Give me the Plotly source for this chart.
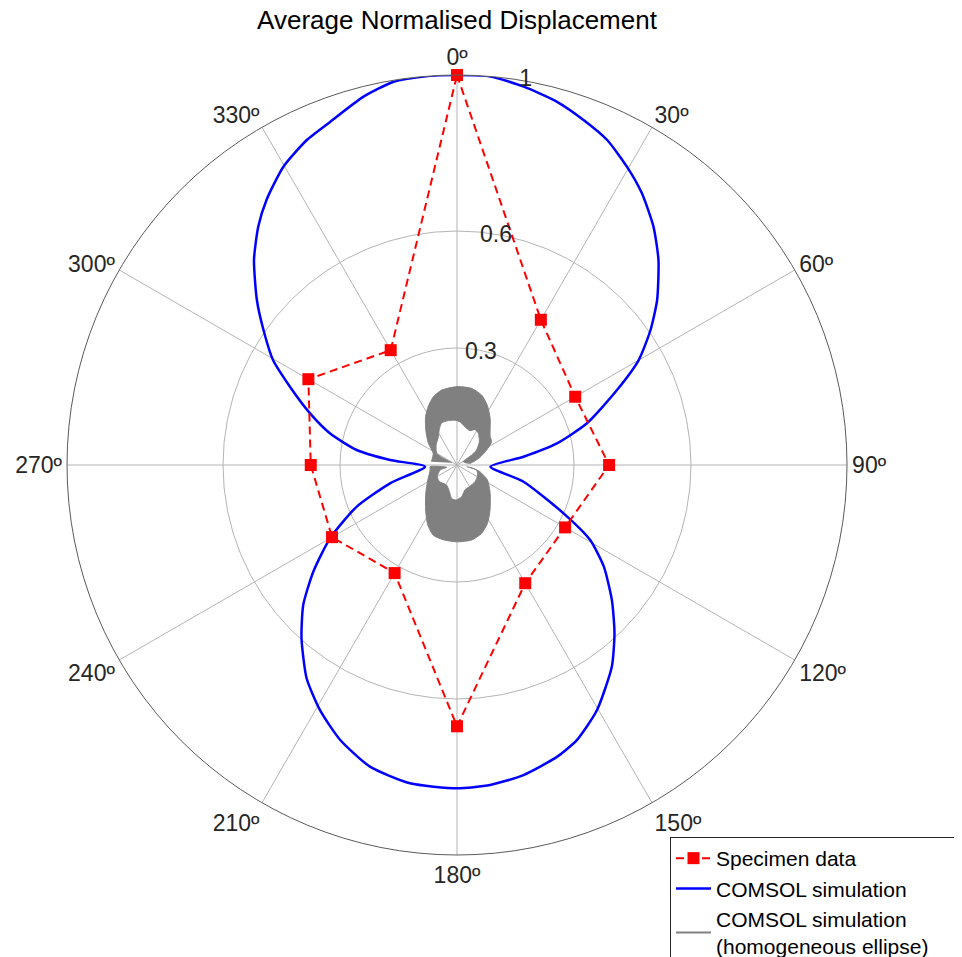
import plotly.graph_objects as go

# ---------------- data ----------------
spec_theta = [0, 30, 60, 90, 120, 150, 180, 210, 240, 270, 300, 330, 360]
spec_r = [1.0, 0.43, 0.35, 0.39, 0.32, 0.35, 0.67, 0.32, 0.37, 0.375, 0.44, 0.34, 1.0]

sim_theta = [0, 4.9, 10, 15.4, 20.2, 24.8, 29.7, 34.2, 39.5, 44.5, 50.5, 55.1, 60, 64.9,
             72.2, 77.8, 82.9, 92.9,
             104.1, 114.4, 119.4, 124.7, 131.1, 136.9, 142.5, 150.3, 156.4, 161.1, 167.9,
             174.1, 180,
             188.4, 196.1, 203, 209.2, 215.2, 221.9, 227.7, 233.4, 240, 247.4, 254.7, 267,
             274.3, 278.5, 284, 289.4, 295.1, 299.7, 304.9, 309.5, 315.3, 320.2, 324.3,
             329.8, 335.2, 339.7, 345.7, 350.6, 355.1, 360]
sim_r = [1.0, 1.0, 0.985, 0.966, 0.942, 0.918, 0.88, 0.843, 0.792, 0.737, 0.665, 0.605, 0.538, 0.453,
         0.35, 0.262, 0.172, 0.086,
         0.176, 0.30, 0.392, 0.458, 0.527, 0.591, 0.652, 0.724, 0.769, 0.791, 0.813,
         0.825, 0.829,
         0.825, 0.805, 0.766, 0.72, 0.669, 0.597, 0.533, 0.459, 0.376, 0.279, 0.178, 0.082,
         0.172, 0.26, 0.336, 0.40, 0.473, 0.543, 0.605, 0.665, 0.74, 0.796, 0.837,
         0.885, 0.918, 0.938, 0.974, 0.996, 1.0, 1.0]

# homogeneous ellipse, upper lobe: outer edge (clockwise) then the inner hole edge back
ell_up_theta = [277.5, 296.2, 307.1, 318.2, 327, 333.8, 340.9, 348.4, 0, 10.8, 19.4, 26.8,
                35.3, 49.4, 56, 63.2, 71.6, 82.7,
                62.2, 55.7, 52.7, 43.7, 34, 26.8, 20.7, 11.8, 4, 357.5, 348.9, 340.1, 334.3,
                326.6, 313.6, 299.8, 296.6, 293.6]
ell_up_r = [0.066, 0.068, 0.092, 0.12, 0.148, 0.167, 0.185, 0.196, 0.201, 0.2, 0.19, 0.172,
            0.147, 0.112, 0.107, 0.085, 0.062, 0.034,
            0.018, 0.046, 0.063, 0.083, 0.098, 0.102, 0.094, 0.1, 0.111, 0.115, 0.116, 0.115, 0.104,
            0.087, 0.074, 0.06, 0.044, 0.015]
# lower lobe
ell_lo_theta = [100.2, 106.2, 116.3, 130.6, 143.7, 152.5, 160.1, 168.9, 180, 190.3, 198.7,
                206, 214.8, 227.9, 242.9, 259.5, 266.5,
                257.3, 253.6, 239.3, 226.7, 207.3, 196, 189.1, 181.6, 171.6, 162.3, 150.4,
                132.8, 115.8, 104.3, 99.8]
ell_lo_r = [0.034, 0.061, 0.087, 0.112, 0.143, 0.169, 0.186, 0.196, 0.197, 0.195, 0.19,
            0.171, 0.141, 0.108, 0.084, 0.07, 0.069,
            0.027, 0.045, 0.059, 0.062, 0.058, 0.071, 0.087, 0.09, 0.082, 0.067, 0.064,
            0.063, 0.059, 0.052, 0.025]

ang_ticks = [0, 30, 60, 90, 120, 150, 180, 210, 240, 270, 300, 330]
ang_labels = ["0º", "30º", "60º", "90º", "120º", "150º", "180º", "210º", "240º", "270º", "300º", "330º"]
rad_ticks = [0.3, 0.6, 1]
rad_labels = ["0.3", "0.6", "1"]

legend_names = ["Specimen data", "COMSOL simulation",
                "COMSOL simulation<br>(homogeneous ellipse)"]

FONT = "Liberation Sans, Arial, sans-serif"
GRAY = "#808080"
NB = "\u00a0"
# leading non-breaking spaces nudge the radial labels onto MATLAB's label line
rad_text = [rad_labels[0], NB * 3 + rad_labels[1], NB * 10 + rad_labels[2]]

# page is offset by the browser's 8px body margin; figure sized to end at the window edge
W, H, OFF = 954, 949, 8


def px(x):
    return (x - OFF) / W


def py(y):
    return 1 - (y - OFF) / H


fig = go.Figure()

for th, rr in [(ell_up_theta, ell_up_r), (ell_lo_theta, ell_lo_r)]:
    fig.add_trace(go.Scatterpolar(
        r=rr, theta=th, mode="lines", fill="toself", fillcolor=GRAY,
        line=dict(color=GRAY, width=1, shape="spline", smoothing=0.6),
        showlegend=False, hoverinfo="skip"))

fig.add_trace(go.Scatterpolar(
    r=sim_r, theta=sim_theta, mode="lines", name=legend_names[1],
    line=dict(color="#0000ff", width=2.5, shape="spline", smoothing=0.6), legendrank=2))

fig.add_trace(go.Scatterpolar(
    r=[None], theta=[None], mode="lines",
    name=legend_names[2] + NB * 6,
    line=dict(color=GRAY, width=2), legendrank=3, showlegend=True))

fig.add_trace(go.Scatterpolar(
    r=spec_r, theta=spec_theta, mode="lines+markers", name=legend_names[0],
    line=dict(color="#ff0000", width=2, dash="8px,5px"),
    marker=dict(symbol="square", size=12, color="#ff0000"), legendrank=1))

fig.update_layout(
    width=W, height=H,
    margin=dict(l=0, r=0, t=0, b=0, autoexpand=False),
    paper_bgcolor="white",
    font=dict(family=FONT, color="#262626"),
    title=dict(text="Average Normalised Displacement", x=px(457), xanchor="center",
               y=py(20), yanchor="middle", yref="container",
               font=dict(size=26, color="#000000", family=FONT)),
    polar=dict(
        domain=dict(x=[px(67), px(847)], y=[py(855), py(75)]),
        bgcolor="white",
        angularaxis=dict(rotation=90, direction="clockwise",
                         tickmode="array", tickvals=ang_ticks, ticktext=ang_labels,
                         showline=True, linecolor="#5a5a5a", linewidth=1,
                         gridcolor="#b4b4b4", gridwidth=1, ticks="",
                         tickfont=dict(size=23, color="#262626")),
        radialaxis=dict(range=[0, 1], tickmode="array", tickvals=rad_ticks, ticktext=rad_text,
                        showline=False, ticks="", angle=92, tickangle=92,
                        gridcolor="#b4b4b4", gridwidth=1,
                        tickfont=dict(size=23, color="#262626")),
    ),
    legend=dict(x=px(670), y=py(837), xanchor="left", yanchor="top",
                bgcolor="white", bordercolor="#262626", borderwidth=1,
                font=dict(size=21, color="#000000", family=FONT),
                itemwidth=35, tracegroupgap=0),
    showlegend=True,
)

fig.write_html("out.html")
